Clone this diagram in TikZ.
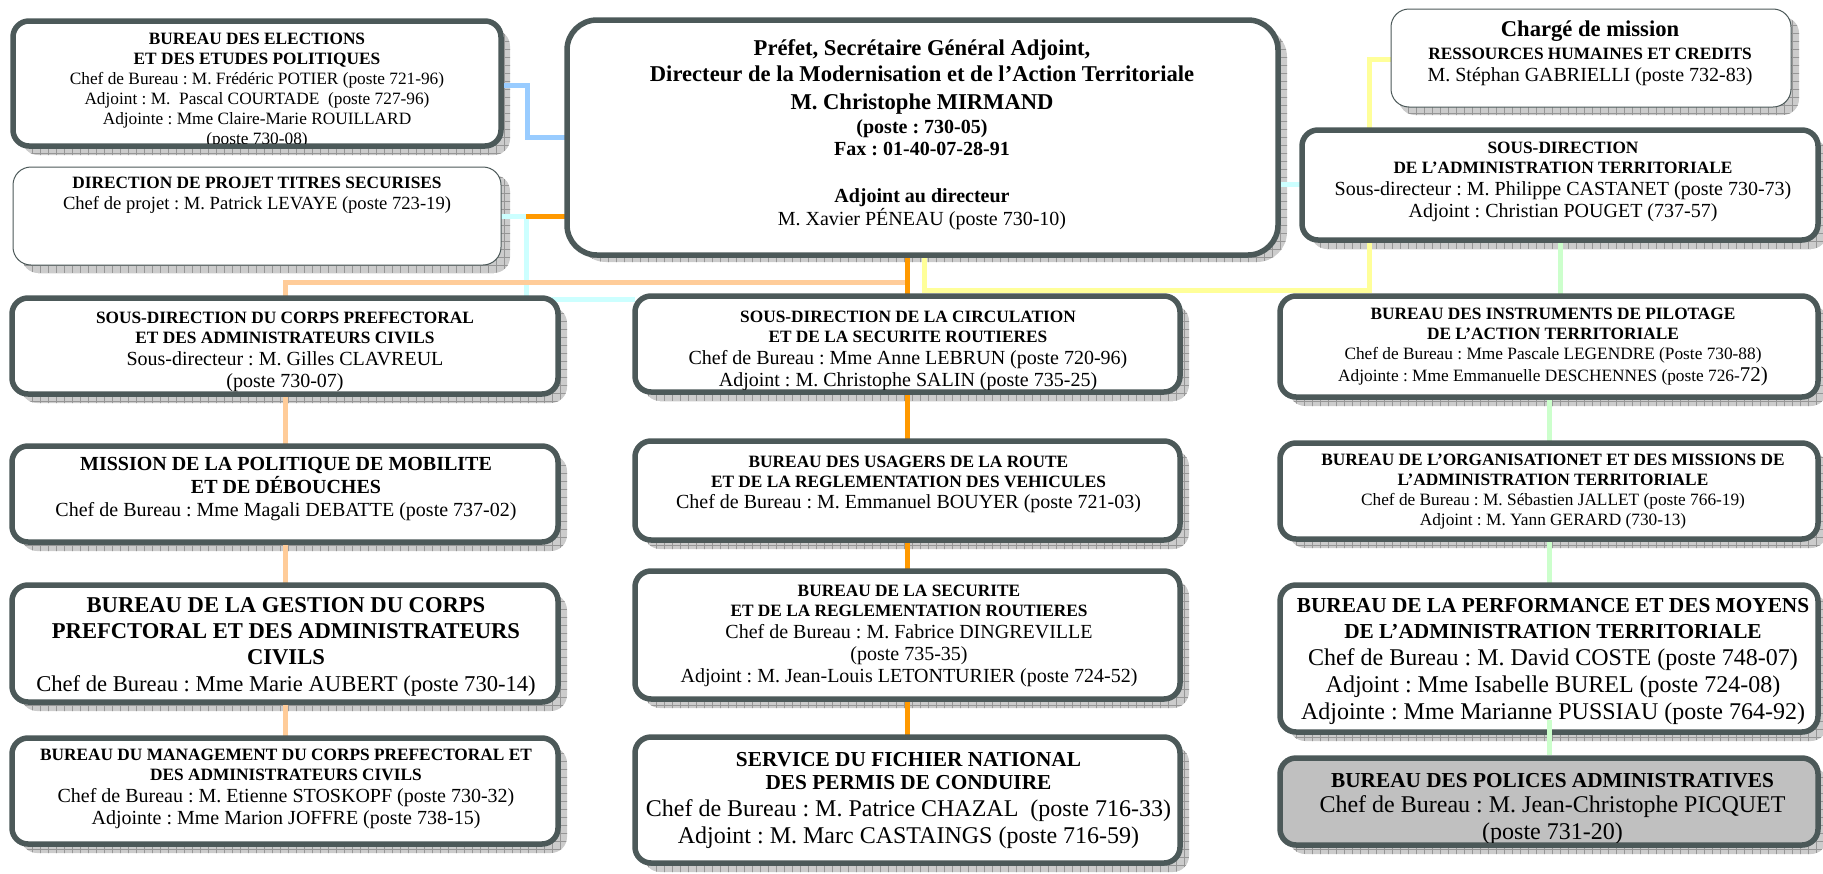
\documentclass[tikz,border=0pt]{standalone}
\usepackage{fontspec}
\setmainfont{Liberation Serif}
\usetikzlibrary{fit,patterns.meta}
\pgfdeclarelayer{background}
\pgfsetlayers{background,main}
\frenchspacing
\definecolor{slate}{RGB}{76,89,89}
\definecolor{shadowgray}{RGB}{204,204,204}
\definecolor{gridgray}{RGB}{150,150,150}
\definecolor{blueline}{RGB}{153,204,255}
\definecolor{orangeline}{RGB}{255,153,0}
\definecolor{cyanline}{RGB}{204,255,255}
\definecolor{peachline}{RGB}{255,204,153}
\definecolor{yellowline}{RGB}{255,255,153}
\definecolor{greenline}{RGB}{204,255,204}
\definecolor{policesfill}{RGB}{192,192,192}
\newcommand{\hdsmall}[1]{{\fontsize{17.3}{20}\selectfont\bfseries #1}}
\newcommand{\hdmid}[1]{{\fontsize{21.3}{24}\selectfont\bfseries #1}}
\newcommand{\hdlarge}[1]{{\fontsize{22.6}{26}\selectfont\bfseries #1}}
\tikzset{
  boxthick/.style={draw=slate, line width=5.5pt, fill=white, rounded corners=16pt},
  boxthin/.style={draw=slate, line width=1pt, fill=white, rounded corners=18pt},
  shadowbox/.style={rounded corners=16pt, fill=shadowgray,
    postaction={pattern={Hatch[distance=8pt,angle=0,line width=0.5pt]}, pattern color=gridgray}},
  linkline/.style={line width=5pt, line cap=butt, line join=miter},
  textA/.style={align=center, font=\fontsize{17.3}{20}\selectfont},
  textB/.style={align=center, font=\fontsize{20}{22}\selectfont},
  textC/.style={align=center, font=\fontsize{24}{27}\selectfont}
}
\begin{document}
\begin{tikzpicture}[y=1pt, x=1pt, yscale=-1, inner sep=0pt, outer sep=0pt]
\useasboundingbox (0,0) rectangle (1823,873);
% boxes, top row
\node[boxthick, fit={(13,21) (501,146)}] (rectElections) {};
\node[boxthin, fit={(13,167) (501,265)}] (rectProjet) {};
\node[boxthick, rounded corners=30pt, fit={(567,20) (1278,255)}] (rectCentral) {};
\node[boxthin, fit={(1391,9) (1791,107)}] (rectCharge) {};
\node[boxthick, fit={(1302,130) (1818,240)}] (rectAdminTerr) {};
% left column
\node[boxthick, fit={(12,298) (558,394)}] (rectCorps) {};
\node[boxthick, fit={(12,446) (558,542)}] (rectMission) {};
\node[boxthick, fit={(12,585) (558,702)}] (rectGestion) {};
\node[boxthick, fit={(12,738) (558,844)}] (rectManagement) {};
% middle column
\node[boxthick, fit={(635,296) (1180,392)}] (rectCirculation) {};
\node[boxthick, fit={(635,441) (1180,540)}] (rectUsagers) {};
\node[boxthick, fit={(635,571) (1180,699)}] (rectSecurite) {};
\node[boxthick, fit={(635,737) (1180,863)}] (rectFichier) {};
% right column
\node[boxthick, fit={(1280,296) (1818,397)}] (rectInstruments) {};
\node[boxthick, fit={(1280,443) (1818,539)}] (rectOrganisation) {};
\node[boxthick, fit={(1280,585) (1818,732)}] (rectPerformance) {};
\node[boxthick, fill=policesfill, fit={(1280,758) (1818,845)}] (rectPolices) {};

% texts
\begin{scope}
  \clip (16,24) rectangle (498,143);
  \node[textA] (textElections) at (257,91) {\textbf{BUREAU DES ELECTIONS}\\
    \textbf{ET DES ETUDES POLITIQUES}\\
    Chef de Bureau : M. Frédéric POTIER (poste 721-96)\\
    Adjoint : M.~ Pascal COURTADE~ (poste 727-96)\\
    Adjointe : Mme Claire-Marie ROUILLARD\\
    (poste 730-08)};
\end{scope}
\node[align=center, font=\fontsize{18.6}{21}\selectfont] (textProjet) at (257,195.5)
  {\hdsmall{DIRECTION DE PROJET TITRES SECURISES}\\
   Chef de projet : M. Patrick LEVAYE (poste 723-19)};
\node[align=center, font=\fontsize{20}{23}\selectfont] (textCentral) at (922,135)
  {\hdlarge{Préfet, Secrétaire Général Adjoint,}\\[3pt]
   \hdlarge{Directeur de la Modernisation et de l’Action Territoriale}\\[5pt]
   \hdlarge{M. Christophe MIRMAND}\\[1pt]
   \textbf{(poste : 730-05)}\\[-1pt]
   \textbf{Fax : 01-40-07-28-91}\\
   \\[1pt]
   \textbf{Adjoint au directeur}\\
   M. Xavier PÉNEAU (poste 730-10)};
\node[align=center, font=\fontsize{20}{22.5}\selectfont] (textCharge) at (1590,53.5)
  {\hdlarge{Chargé de mission}\\
   \hdsmall{RESSOURCES HUMAINES ET CREDITS}\\
   M. Stéphan GABRIELLI (poste 732-83)};
\node[textB] (textAdminTerr) at (1563,182)
  {\hdsmall{SOUS-DIRECTION}\\[-2pt]
   \hdsmall{DE L’ADMINISTRATION TERRITORIALE}\\
   Sous-directeur : M. Philippe CASTANET (poste 730-73)\\
   Adjoint : Christian POUGET (737-57)};
\begin{scope}
  \clip (15,301) rectangle (555,391);
  \node[textB] (textCorps) at (285,352)
    {\hdsmall{SOUS-DIRECTION DU CORPS PREFECTORAL}\\[-2pt]
     \hdsmall{ET DES ADMINISTRATEURS CIVILS}\\
     Sous-directeur : M. Gilles CLAVREUL\\
     (poste 730-07)};
\end{scope}
\node[align=center, font=\fontsize{20}{23}\selectfont] (textMission) at (286,489)
  {\textbf{MISSION DE LA POLITIQUE DE MOBILITE}\\
   \textbf{ET DE DÉBOUCHES}\\
   Chef de Bureau : Mme Magali DEBATTE (poste 737-02)};
\node[align=center, font=\fontsize{22.6}{26.3}\selectfont] (textGestion) at (286,646.5)
  {\textbf{BUREAU DE LA GESTION DU CORPS}\\
   \textbf{PREFCTORAL ET DES ADMINISTRATEURS}\\
   \textbf{CIVILS}\\
   Chef de Bureau : Mme Marie AUBERT (poste 730-14)};
\node[textB] (textManagement) at (286,789)
  {\hdsmall{BUREAU DU MANAGEMENT DU CORPS PREFECTORAL ET}\\[-2pt]
   \hdsmall{DES ADMINISTRATEURS CIVILS}\\
   Chef de Bureau : M. Etienne STOSKOPF (poste 730-32)\\
   Adjointe : Mme Marion JOFFRE (poste 738-15)};
\begin{scope}
  \clip (638,299) rectangle (1177,389);
  \node[textB] (textCirculation) at (908,350.5)
    {\hdsmall{SOUS-DIRECTION DE LA CIRCULATION}\\[-2pt]
     \hdsmall{ET DE LA SECURITE ROUTIERES}\\
     Chef de Bureau : Mme Anne LEBRUN (poste 720-96)\\
     Adjoint : M. Christophe SALIN (poste 735-25)};
\end{scope}
\node[textB] (textUsagers) at (908.5,484.5)
  {\hdsmall{BUREAU DES USAGERS DE LA ROUTE}\\[-2pt]
   \hdsmall{ET DE LA REGLEMENTATION DES VEHICULES}\\[-1pt]
   Chef de Bureau : M. Emmanuel BOUYER (poste 721-03)};
\node[textB] (textSecurite) at (909,635.5)
  {\hdsmall{BUREAU DE LA SECURITE}\\[-2pt]
   \hdsmall{ET DE LA REGLEMENTATION ROUTIERES}\\
   Chef de Bureau : M. Fabrice DINGREVILLE\\
   (poste 735-35)\\
   Adjoint : M. Jean-Louis LETONTURIER (poste 724-52)};
\node[textC] (textFichier) at (908.5,800.5)
  {\hdmid{SERVICE DU FICHIER NATIONAL}\\[-4pt]
   \hdmid{DES PERMIS DE CONDUIRE}\\
   Chef de Bureau : M. Patrice CHAZAL~ (poste 716-33)\\
   Adjoint : M. Marc CASTAINGS (poste 716-59)};
\node[textA] (textInstruments) at (1553,347)
  {\textbf{BUREAU DES INSTRUMENTS DE PILOTAGE}\\
   \textbf{DE L’ACTION TERRITORIALE}\\
   Chef de Bureau : Mme Pascale LEGENDRE (Poste 730-88)\\[2pt]
   Adjointe : Mme Emmanuelle DESCHENNES (poste 726-{\fontsize{21}{21}\selectfont 72)}};
\node[textA] (textOrganisation) at (1553,492)
  {\textbf{BUREAU DE L’ORGANISATIONET ET DES MISSIONS DE}\\
   \textbf{L’ADMINISTRATION TERRITORIALE}\\
   Chef de Bureau : M. Sébastien JALLET (poste 766-19)\\
   Adjoint : M. Yann GERARD (730-13)};
\node[textC] (textPerformance) at (1553,661)
  {\hdmid{BUREAU DE LA PERFORMANCE ET DES MOYENS}\\[-1pt]
   \hdmid{DE L’ADMINISTRATION TERRITORIALE}\\
   Chef de Bureau : M. David COSTE (poste 748-07)\\
   Adjoint : Mme Isabelle BUREL (poste 724-08)\\
   Adjointe : Mme Marianne PUSSIAU (poste 764-92)};
\begin{scope}
  \clip (1283,761) rectangle (1815,842);
  \node[textC] (textPolices) at (1552.5,809)
    {\hdmid{BUREAU DES POLICES ADMINISTRATIVES}\\[-2pt]
     Chef de Bureau : M. Jean-Christophe PICQUET\\
     (poste 731-20)};
\end{scope}

% green stub drawn over the box
\draw[linkline, greenline] (rectPerformance.south |- 0,720) -- (rectPolices.north |- 0,755);

\coordinate (junctionCyan) at (526,216);
\coordinate (junctionPeach) at (907,282);

\begin{pgfonlayer}{background}
  % shadows
  \path[shadowbox] ([shift={(9,9)}]rectElections.north west) rectangle ([shift={(9,9)}]rectElections.south east);
  \path[shadowbox] ([shift={(9,8)}]rectProjet.north west) rectangle ([shift={(9,8)}]rectProjet.south east);
  \path[shadowbox, rounded corners=30pt] ([shift={(9,7)}]rectCentral.north west) rectangle ([shift={(9,7)}]rectCentral.south east);
  \path[shadowbox] ([shift={(8,8)}]rectCharge.north west) rectangle ([shift={(8,8)}]rectCharge.south east);
  \path[shadowbox] ([shift={(9,9)}]rectAdminTerr.north west) rectangle ([shift={(9,9)}]rectAdminTerr.south east);
  \path[shadowbox] ([shift={(9,9)}]rectCorps.north west) rectangle ([shift={(9,9)}]rectCorps.south east);
  \path[shadowbox] ([shift={(9,9)}]rectMission.north west) rectangle ([shift={(9,9)}]rectMission.south east);
  \path[shadowbox] ([shift={(9,9)}]rectGestion.north west) rectangle ([shift={(9,9)}]rectGestion.south east);
  \path[shadowbox] ([shift={(9,9)}]rectManagement.north west) rectangle ([shift={(9,9)}]rectManagement.south east);
  \path[shadowbox] ([shift={(9,9)}]rectCirculation.north west) rectangle ([shift={(9,9)}]rectCirculation.south east);
  \path[shadowbox] ([shift={(9,9)}]rectUsagers.north west) rectangle ([shift={(9,9)}]rectUsagers.south east);
  \path[shadowbox] ([shift={(9,9)}]rectSecurite.north west) rectangle ([shift={(9,9)}]rectSecurite.south east);
  \path[shadowbox] ([shift={(9,9)}]rectFichier.north west) rectangle ([shift={(9,9)}]rectFichier.south east);
  \path[shadowbox] ([shift={(9,9)}]rectInstruments.north west) rectangle ([shift={(9,9)}]rectInstruments.south east);
  \path[shadowbox] ([shift={(9,9)}]rectOrganisation.north west) rectangle ([shift={(9,9)}]rectOrganisation.south east);
  \path[shadowbox] ([shift={(9,9)}]rectPerformance.north west) rectangle ([shift={(9,9)}]rectPerformance.south east);
  \path[shadowbox] ([shift={(9,9)}]rectPolices.north west) rectangle ([shift={(9,9)}]rectPolices.south east);

  % connectors
  \draw[linkline, cyanline] (rectProjet.east |- junctionCyan) -- (junctionCyan) |- (rectCirculation.west |- 0,299);
  \draw[linkline, cyanline] (rectCentral.east |- 0,184) -- (rectAdminTerr.west |- 0,184);
  \draw[linkline, blueline] (rectElections.east |- 0,85) -| (527,137) -- (rectCentral.west |- 0,137);
  \draw[linkline, orangeline] (junctionCyan) -- (rectCentral.west |- junctionCyan);
  \draw[linkline, yellowline] (rectCentral.south -| 924,0) |- (1369,290) |- (rectCharge.west |- 0,59);
  \draw[linkline, peachline] (junctionPeach) -| (rectCorps.north);
  \draw[linkline, orangeline] (rectCentral.south -| rectCirculation.north) -- (rectCirculation.north);
  \draw[linkline, greenline] (rectAdminTerr.south) -- (rectAdminTerr.south |- rectInstruments.north);
  \draw[linkline, greenline] (rectInstruments.south) -- (rectOrganisation.north);
  \draw[linkline, greenline] (rectOrganisation.south) -- (rectPerformance.north);
  \draw[linkline, peachline] (rectCorps.south) -- (rectMission.north);
  \draw[linkline, peachline] (rectMission.south) -- (rectGestion.north);
  \draw[linkline, peachline] (rectGestion.south) -- (rectManagement.north);
  \draw[linkline, orangeline] (rectCirculation.south) -- (rectUsagers.north);
  \draw[linkline, orangeline] (rectUsagers.south) -- (rectSecurite.north);
  \draw[linkline, orangeline] (rectSecurite.south) -- (rectFichier.north);
\end{pgfonlayer}
\end{tikzpicture}
\end{document}
